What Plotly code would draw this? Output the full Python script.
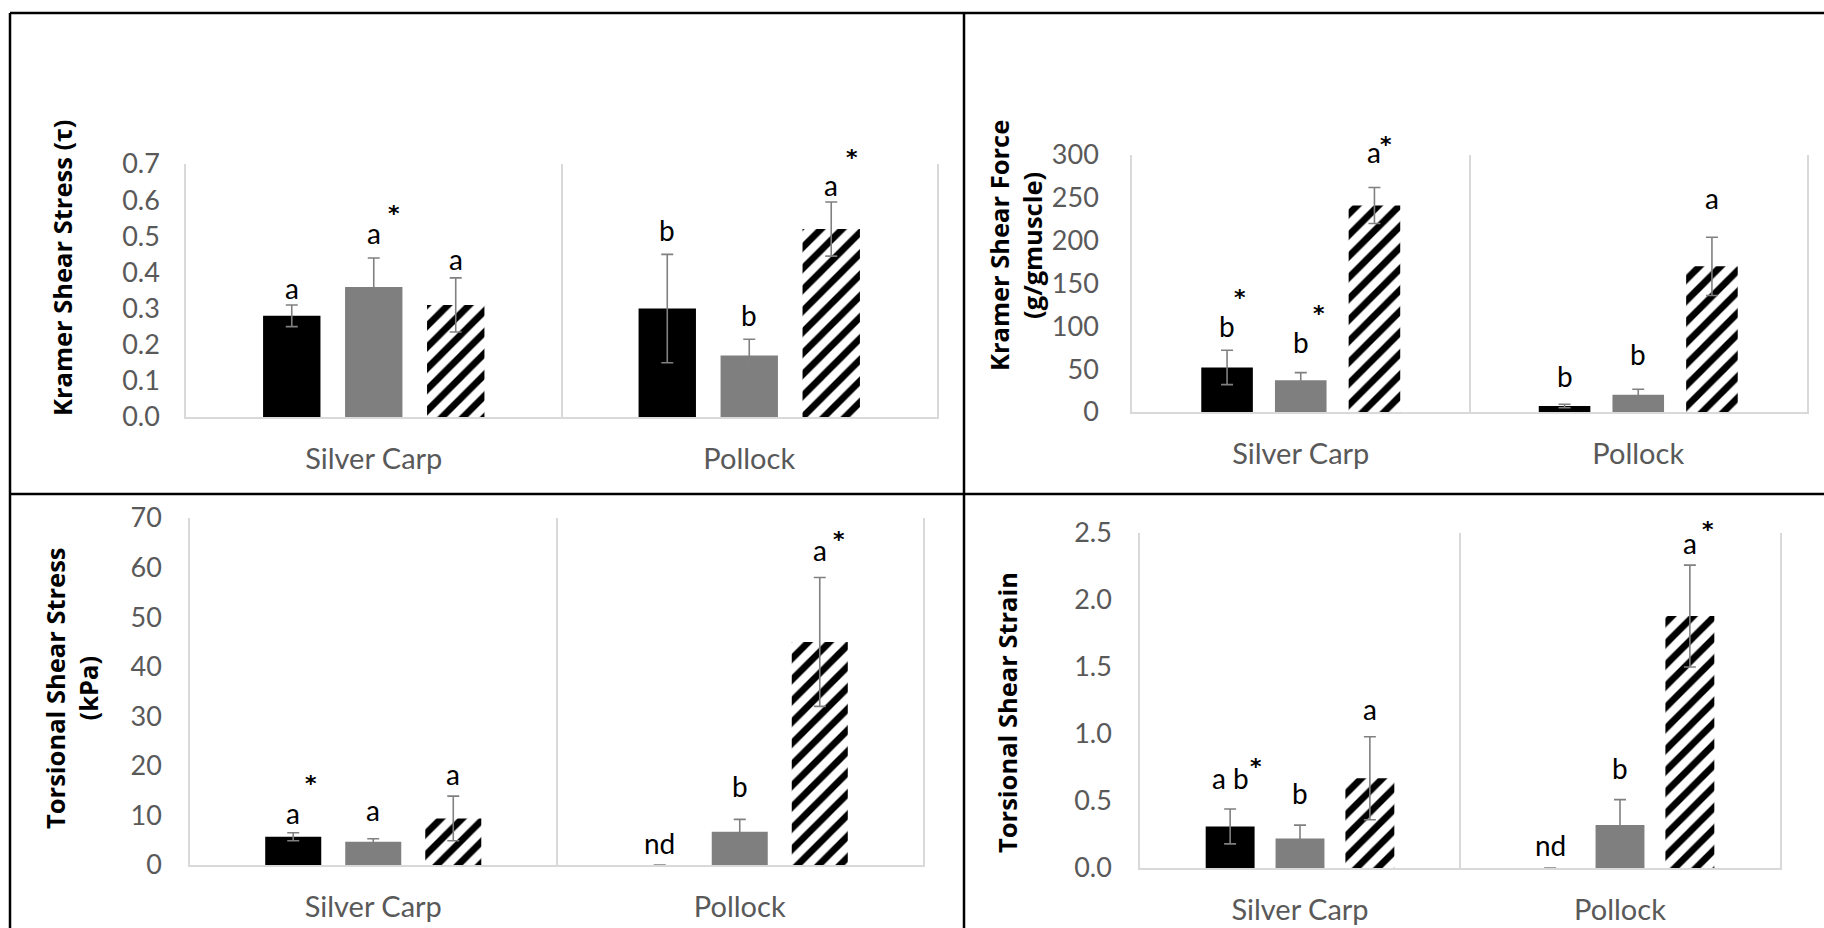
import plotly.graph_objects as go

# ---- data -------------------------------------------------------------
fish = ["Silver Carp", "Pollock"]
series_names = ["Series 1", "Series 2", "Series 3"]

# Kramer shear stress (tau): one list per series, values for [Silver Carp, Pollock]
kramer_stress_mean = [[0.28, 0.30], [0.36, 0.17], [0.31, 0.52]]
kramer_stress_err = [[0.03, 0.15], [0.08, 0.045], [0.075, 0.075]]
kramer_stress_letters = [["a", "b"], ["a", "b"], ["a", "a"]]
kramer_stress_star = [[False, False], [True, False], [False, True]]

# Kramer shear force (g/g muscle)
kramer_force_mean = [[52, 7], [37, 20], [241, 170]]
kramer_force_err = [[20, 2], [9, 6.5], [21, 34]]
kramer_force_letters = [["b", "b"], ["b", "b"], ["a", "a"]]
kramer_force_star = [[True, False], [True, False], [True, False]]

# Torsional shear stress (kPa)
torsion_stress_mean = [[5.7, 0.0], [4.7, 6.7], [9.4, 45.0]]
torsion_stress_err = [[0.8, 0.0], [0.6, 2.5], [4.5, 13.0]]
torsion_stress_letters = [["a", "nd"], ["a", "b"], ["a", "a"]]
torsion_stress_star = [[True, False], [False, False], [False, True]]

# Torsional shear strain
torsion_strain_mean = [[0.31, 0.0], [0.22, 0.32], [0.67, 1.88]]
torsion_strain_err = [[0.13, 0.0], [0.10, 0.19], [0.31, 0.38]]
torsion_strain_letters = [["a b", "nd"], ["b", "b"], ["a", "a"]]
torsion_strain_star = [[True, False], [False, False], [False, True]]

y_ticks_stress = [0.0, 0.1, 0.2, 0.3, 0.4, 0.5, 0.6, 0.7]
y_ticks_force = [0, 50, 100, 150, 200, 250, 300]
y_ticks_torsion = [0, 10, 20, 30, 40, 50, 60, 70]
y_ticks_strain = [0.0, 0.5, 1.0, 1.5, 2.0, 2.5]

# ---- styling / placement ---------------------------------------------
W, H = 1824, 928
BARGAP, GROUPGAP = 0.345, 0.30
TEXT_FONT = "Lato"
TITLE_FONT = "Open Sans"
STAR_FONT = "DejaVu Sans"
AXIS_GREY = "#595959"
LINE_GREY = "#d9d9d9"

fills = [
    dict(color="#000000"),
    dict(color="#7f7f7f"),
    dict(color="#000000",
         pattern=dict(shape="/", fillmode="replace", fgcolor="#000000",
                      fgopacity=1, bgcolor="#ffffff", size=15, solidity=0.45)),
]

# panel boxes in pixels: (left, right) and (top, bottom) of the plotting area;
# "lift" raises each letter above its error bar, "star_off" places asterisks
panels = [
    dict(mean=kramer_stress_mean, err=kramer_stress_err,
         letters=kramer_stress_letters, star=kramer_stress_star,
         ticks=y_ticks_stress, fmt=".1f", px=(186, 937), py=(164, 417),
         title="Kramer Shear Stress (τ)", title_xy=(62, 268), tick_pad=19,
         lift=[[17, 24], [25, 24], [19, 17]],
         star_off=[[None, None], [(20, 23), None], [None, (21, 31)]]),
    dict(mean=kramer_force_mean, err=kramer_force_err,
         letters=kramer_force_letters, star=kramer_force_star,
         ticks=y_ticks_force, fmt="d", px=(1132, 1807), py=(155, 412),
         title="Kramer Shear Force<br>(g/gmuscle)", title_xy=(1015, 246),
         tick_pad=26,
         lift=[[24, 28], [31, 35], [36, 39]],
         star_off=[[(13, 33), None], [(18, 32), None], [(12, 11), None]]),
    dict(mean=torsion_stress_mean, err=torsion_stress_err,
         letters=torsion_stress_letters, star=torsion_stress_star,
         ticks=y_ticks_torsion, fmt="d", px=(190, 923), py=(518, 865),
         title="Torsional Shear Stress<br>(kPa)", title_xy=(71, 688),
         tick_pad=21,
         lift=[[20, 22], [29, 33], [22, 27]],
         star_off=[[(18, 33), None], [None, None], [None, (19, 15)]]),
    dict(mean=torsion_strain_mean, err=torsion_strain_err,
         letters=torsion_strain_letters, star=torsion_strain_star,
         ticks=y_ticks_strain, fmt=".1f", px=(1140, 1780), py=(533, 868),
         title="Torsional Shear Strain", title_xy=(1007, 713), tick_pad=21,
         lift=[[31, 23], [32, 32], [28, 22]],
         star_off=[[(26, 16), None], [None, None], [None, (18, 18)]]),
]

fig = go.Figure()
annotations = []
n_series = len(series_names)
slot = (1 - BARGAP) / n_series

for k, p in enumerate(panels, start=1):
    xa, ya = f"x{k}", f"y{k}"
    for s in range(n_series):
        fig.add_trace(go.Bar(
            x=fish, y=p["mean"][s], name=series_names[s],
            marker=dict(**fills[s], line=dict(width=0)),
            error_y=dict(type="data", array=p["err"][s], visible=True,
                         color="#808080", thickness=1.6, width=6),
            xaxis=xa, yaxis=ya, showlegend=False,
        ))
        offset = (s - (n_series - 1) / 2) * slot
        for c in range(len(fish)):
            top = p["mean"][s][c] + p["err"][s][c]
            annotations.append(dict(
                xref=xa, yref=ya, x=c + offset, y=top,
                text=p["letters"][s][c], showarrow=False,
                yshift=p["lift"][s][c], yanchor="middle",
                font=dict(family=TEXT_FONT, size=28, color="#000000")))
            if p["star"][s][c]:
                dx, dy = p["star_off"][s][c]
                annotations.append(dict(
                    xref=xa, yref=ya, x=c + offset, y=top,
                    text="<b>*</b>", showarrow=False,
                    xshift=dx, yshift=p["lift"][s][c] + dy - 4,
                    yanchor="middle",
                    font=dict(family=STAR_FONT, size=22, color="#000000")))

    x0, x1 = p["px"]
    y0, y1 = p["py"]
    ticks = p["ticks"]
    sfx = "" if k == 1 else str(k)
    fig.update_layout({
        f"xaxis{sfx}": dict(
            domain=[x0 / W, x1 / W], anchor=ya, type="category",
            tickson="boundaries", ticks="", showgrid=True,
            gridcolor=LINE_GREY, gridwidth=1.5,
            showline=True, linecolor=LINE_GREY, linewidth=2,
            zeroline=False, automargin=False, ticklabelstandoff=15,
            tickfont=dict(family=TEXT_FONT, size=29, color=AXIS_GREY)),
        f"yaxis{sfx}": dict(
            domain=[1 - y1 / H, 1 - y0 / H], anchor=xa,
            range=[ticks[0], ticks[-1]], tickvals=ticks, tickformat=p["fmt"],
            showgrid=False, zeroline=False, ticks="",
            showline=True, mirror=True, linecolor=LINE_GREY, linewidth=1.5,
            automargin=False, ticklabelstandoff=p["tick_pad"],
            tickfont=dict(family=TEXT_FONT, size=27, color=AXIS_GREY)),
    })
    tx, ty = p["title_xy"]
    annotations.append(dict(
        xref="paper", yref="paper", x=tx / W, y=1 - ty / H,
        text=f"<b>{p['title']}</b>", textangle=-90, showarrow=False,
        xanchor="center", yanchor="middle",
        font=dict(family=TITLE_FONT, size=25.5, color="#000000")))

# table rules framing the four panels
rule = dict(type="line", xref="paper", yref="paper",
            line=dict(color="#000000", width=2.5))
shapes = [
    dict(rule, x0=10 / W, x1=1, y0=1 - 13 / H, y1=1 - 13 / H),
    dict(rule, x0=10 / W, x1=10 / W, y0=0, y1=1 - 13 / H),
    dict(rule, x0=964 / W, x1=964 / W, y0=0, y1=1 - 13 / H),
    dict(rule, x0=10 / W, x1=1, y0=1 - 494 / H, y1=1 - 494 / H),
]

fig.update_layout(
    template="none",
    width=W, height=H, margin=dict(l=0, r=0, t=0, b=0, pad=0, autoexpand=False),
    paper_bgcolor="#ffffff", plot_bgcolor="#ffffff",
    barmode="group", bargap=BARGAP, bargroupgap=GROUPGAP,
    annotations=annotations, shapes=shapes,
)

fig.write_html("out.html")
